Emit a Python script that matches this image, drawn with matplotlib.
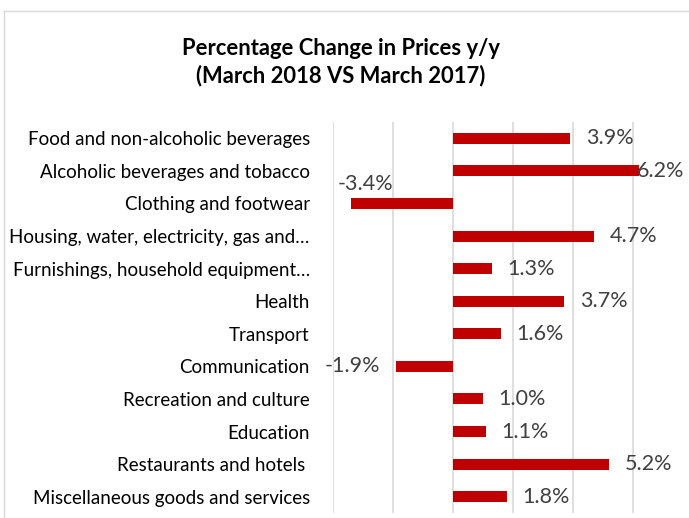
import matplotlib.pyplot as plt
from matplotlib.lines import Line2D

categories = [
    "Food and non-alcoholic beverages",
    "Alcoholic beverages and tobacco",
    "Clothing and footwear",
    "Housing, water, electricity, gas and\u2026",
    "Furnishings, household equipment\u2026",
    "Health",
    "Transport",
    "Communication",
    "Recreation and culture",
    "Education",
    "Restaurants and hotels ",
    "Miscellaneous goods and services",
]
values = [3.9, 6.2, -3.4, 4.7, 1.3, 3.7, 1.6, -1.9, 1.0, 1.1, 5.2, 1.8]

bar_color = "#c00000"
W, H = 689, 518
plt.rcParams['font.family'] = ['Lato', 'DejaVu Sans']

fig = plt.figure(figsize=(W / 100, H / 100), dpi=100)
# plot area in pixels: left 332.7, right edge of image, top 122, bottom 513
ax = fig.add_axes([332.7 / W, 1 - 513 / H, 1 - 332.7 / W, (513 - 122) / H])

y = list(range(len(categories)))
ax.barh(y, values, height=0.34, color=bar_color, zorder=3)
ax.set_ylim(len(categories) - 0.5, -0.5)
ax.set_xlim(-4, (W - 452.7) / 30)
ax.set_xticks([-4, -2, 0, 2, 4, 6])
ax.xaxis.grid(True, color="#d9d9d9", linewidth=1.2, zorder=0)
ax.tick_params(axis='x', bottom=False, labelbottom=False)
ax.tick_params(axis='y', left=False, pad=13, labelsize=13.5)
ax.set_yticks(y)
ax.set_yticklabels(categories, color="#000000")
for s in ax.spines.values():
    s.set_visible(False)

for i, v in enumerate(values):
    lbl = f"{v:.1f}%"
    if v == 6.2:
        ax.annotate(lbl, (v, i), xytext=(-2, 0), textcoords='offset pixels',
                    ha='left', va='center', fontsize=15.5, color="#404040")
    elif v == -3.4:
        ax.annotate(lbl, (v, i), xytext=(15, 19), textcoords='offset pixels',
                    ha='center', va='center', fontsize=15.5, color="#404040")
    elif v < 0:
        ax.annotate(lbl, (v, i), xytext=(-16, 0), textcoords='offset pixels',
                    ha='right', va='center', fontsize=15.5, color="#404040")
    else:
        ax.annotate(lbl, (v, i), xytext=(16, 0), textcoords='offset pixels',
                    ha='left', va='center', fontsize=15.5, color="#404040")

fig.text(341 / W, 1 - 62 / H, "Percentage Change in Prices y/y\n(March 2018 VS March 2017)",
         ha='center', va='center', fontsize=15.8, fontweight='bold', linespacing=1.35)

# chart frame (left and top edges visible)
fig.add_artist(Line2D([4 / W, 4 / W], [0, 1 - 11 / H], transform=fig.transFigure,
                      color="#d9d9d9", linewidth=1))
fig.add_artist(Line2D([4 / W, 1], [1 - 11 / H, 1 - 11 / H], transform=fig.transFigure,
                      color="#d9d9d9", linewidth=1))

fig.savefig("out.png", dpi=100)
